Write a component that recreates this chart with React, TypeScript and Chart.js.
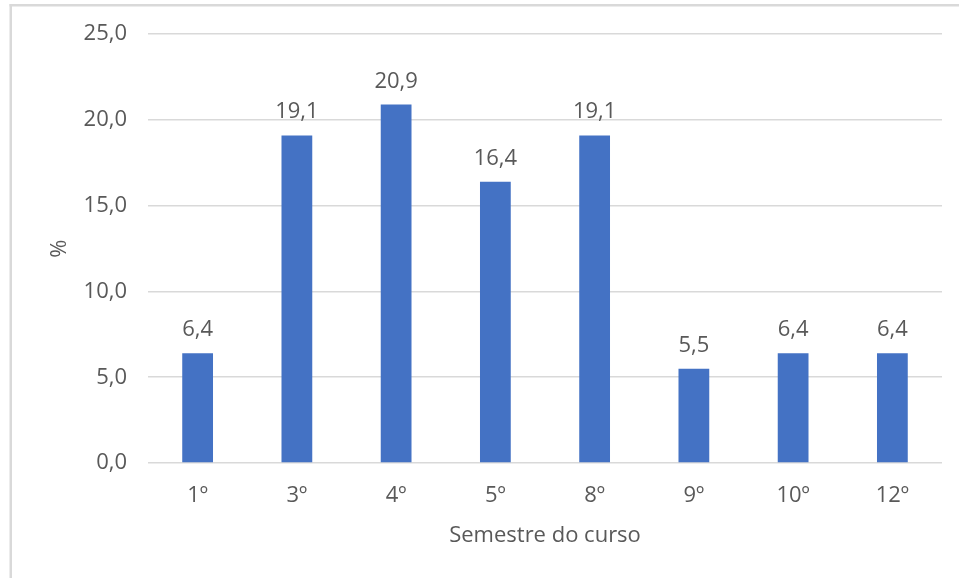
import React, { useEffect, useRef } from "react";
import { Chart, registerables } from "chart.js";

Chart.register(...registerables);

const categories: string[] = ["1º", "3º", "4º", "5º", "8º", "9º", "10º", "12º"];
const percentValues: number[] = [6.4, 19.1, 20.9, 16.4, 19.1, 5.5, 6.4, 6.4];
const yAxisTitle = "%";
const xAxisTitle = "Semestre do curso";
const yMin = 0;
const yMax = 25;
const yStep = 5;

const fmt = (v: number) => v.toFixed(1).replace(".", ",");

const TEXT = "#595959";
const GRID = "#d9d9d9";
const BAR = "#4472C4";
const FONT = "'Open Sans'";
const FS = 22;

const framePlugin = {
  id: "frame",
  beforeDraw(chart: any) {
    const ctx = chart.ctx;
    ctx.save();
    ctx.fillStyle = "#ffffff";
    ctx.fillRect(0, 0, chart.width, chart.height);
    ctx.fillStyle = GRID;
    ctx.fillRect(9.5, 4, 2.5, chart.height - 4);
    ctx.fillRect(9.5, 4, chart.width - 9.5, 2.5);
    ctx.restore();
  },
};

const labelPlugin = {
  id: "barLabels",
  afterDatasetsDraw(chart: any) {
    const ctx = chart.ctx;
    const meta = chart.getDatasetMeta(0);
    ctx.save();
    ctx.font = `${FS}px ${FONT}`;
    ctx.fillStyle = TEXT;
    ctx.textAlign = "center";
    ctx.textBaseline = "alphabetic";
    meta.data.forEach((bar: any, i: number) => {
      ctx.fillText(fmt(percentValues[i]), bar.x, bar.y - 17);
    });
    ctx.restore();
  },
};

export default function App() {
  const ref = useRef<HTMLCanvasElement | null>(null);
  useEffect(() => {
    if (!ref.current) return;
    const chart = new Chart(ref.current, {
      type: "bar",
      data: {
        labels: categories,
        datasets: [
          {
            data: percentValues,
            backgroundColor: BAR,
            borderWidth: 0,
            barPercentage: 0.31,
            categoryPercentage: 1,
          },
        ],
      },
      options: {
        responsive: false,
        animation: false,
        events: [],
        layout: { padding: { left: 0, right: 17, top: 34, bottom: 0 } },
        plugins: {
          legend: { display: false },
          tooltip: { enabled: false },
        },
        scales: {
          x: {
            grid: { display: false, drawTicks: false },
            border: { display: false },
            ticks: {
              color: TEXT,
              font: { family: FONT, size: FS },
              padding: 20,
              maxRotation: 0,
            },
            title: {
              display: true,
              text: xAxisTitle,
              color: TEXT,
              font: { family: FONT, size: FS },
              padding: { top: 4, bottom: 29 },
            },
            afterFit(scale: any) {
              scale.height = 115;
            },
          },
          y: {
            min: yMin,
            max: yMax,
            grid: { color: GRID, lineWidth: 1.5, drawTicks: false },
            border: { display: false },
            ticks: {
              stepSize: yStep,
              color: TEXT,
              font: { family: FONT, size: FS },
              padding: 21,
              callback: (v: any) => fmt(Number(v)),
            },
            title: {
              display: true,
              text: yAxisTitle,
              color: TEXT,
              font: { family: FONT, size: FS },
              padding: { top: 47, bottom: 4 },
            },
            afterFit(scale: any) {
              scale.width = 148;
            },
          },
        },
      },
      plugins: [framePlugin, labelPlugin],
    });
    return () => chart.destroy();
  }, []);
  return (
    <div style={{ position: "fixed", left: 0, top: 0, width: 959, height: 578, background: "#fff" }}>
      <canvas ref={ref} width={959} height={578} style={{ width: 959, height: 578, display: "block" }} />
    </div>
  );
}
